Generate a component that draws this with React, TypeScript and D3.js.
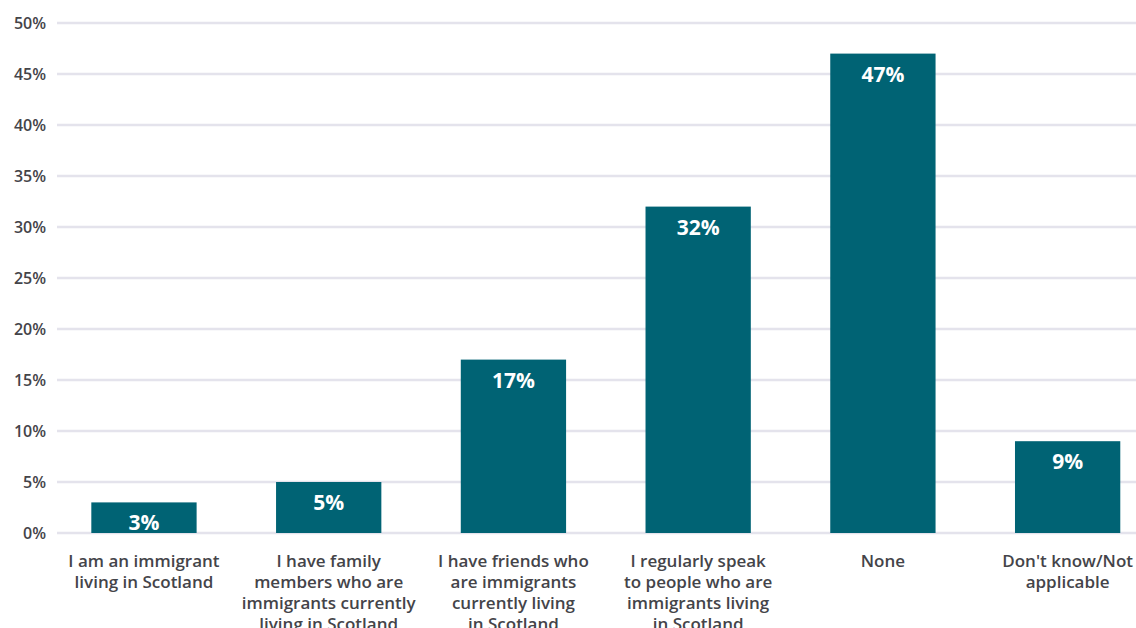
import React from "react";
import * as d3 from "d3";

const categories = [
  "I am an immigrant living in Scotland",
  "I have family members who are immigrants currently living in Scotland",
  "I have friends who are immigrants currently living in Scotland",
  "I regularly speak to people who are immigrants living in Scotland",
  "None",
  "Don't know/Not applicable",
];
const categoryLines = [
  ["I am an immigrant", "living in Scotland"],
  ["I have family", "members who are", "immigrants currently", "living in Scotland"],
  ["I have friends who", "are immigrants", "currently living", "in Scotland"],
  ["I regularly speak", "to people who are", "immigrants living", "in Scotland"],
  ["None"],
  ["Don't know/Not", "applicable"],
];
const values = [3, 5, 17, 32, 47, 9];
const yTicks = [0, 5, 10, 15, 20, 25, 30, 35, 40, 45, 50];

const W = 1136;
const H = 628;
const FONT = "'Open Sans', sans-serif";

export default function App() {
  const x = d3
    .scaleBand<string>()
    .domain(categories)
    .range([51.6, 1160])
    .paddingInner(0.43)
    .paddingOuter(0.215);
  const y = d3.scaleLinear().domain([0, 50]).range([533, 23]);

  return (
    <svg
      width={W}
      height={H}
      style={{ position: "absolute", left: 0, top: 0, background: "#fff" }}
    >
      {yTicks.map((t) => (
        <g key={t}>
          <line
            x1={57}
            x2={W}
            y1={y(t)}
            y2={y(t)}
            stroke="#e4e3ec"
            strokeWidth={2.5}
          />
          <text
            x={46}
            y={y(t)}
            dy="0.35em"
            textAnchor="end"
            fontFamily={FONT}
            fontWeight={600}
            fontSize={16}
            fill="#444449"
          >
            {t}%
          </text>
        </g>
      ))}
      {categories.map((c, i) => {
        const bx = x(c)!;
        const bw = x.bandwidth();
        const top = y(values[i]);
        return (
          <g key={c}>
            <rect x={bx} y={top} width={bw} height={y(0) - top} fill="#006374" />
            <text
              x={bx + bw / 2}
              y={top + 28}
              textAnchor="middle"
              fontFamily={FONT}
              fontWeight={700}
              fontSize={21}
              fill="#ffffff"
            >
              {values[i]}%
            </text>
            <text
              textAnchor="middle"
              fontFamily={FONT}
              fontWeight={600}
              fontSize={17}
              fill="#444449"
            >
              {categoryLines[i].map((ln, j) => (
                <tspan key={j} x={bx + bw / 2} y={567 + j * 21}>
                  {ln}
                </tspan>
              ))}
            </text>
          </g>
        );
      })}
    </svg>
  );
}
